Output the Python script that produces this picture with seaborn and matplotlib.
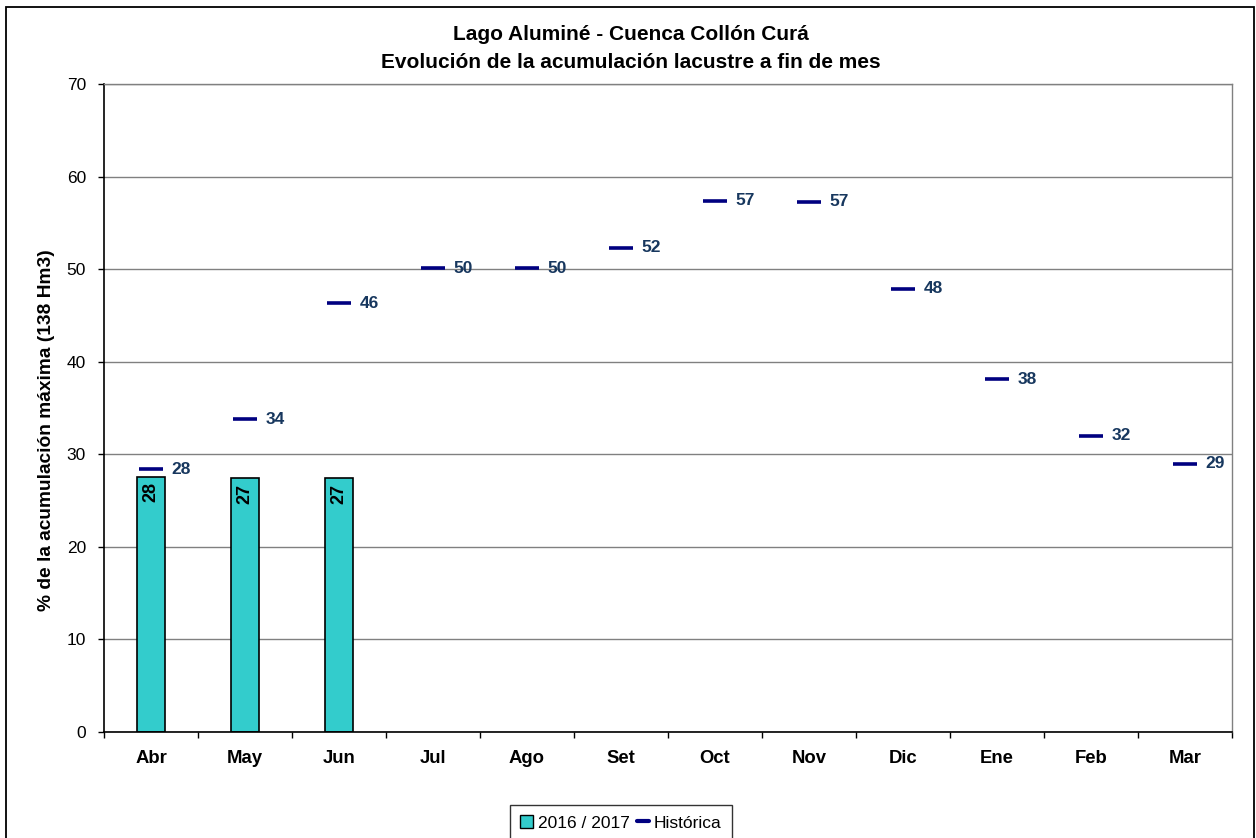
import matplotlib
matplotlib.use("Agg")
import matplotlib.pyplot as plt
import seaborn as sns
import pandas as pd
from matplotlib.patches import Rectangle, Patch
from matplotlib.lines import Line2D
from matplotlib.ticker import FixedLocator

# Months of the hydrological year (April to March)
meses = ["Abr", "May", "Jun", "Jul", "Ago", "Set", "Oct", "Nov", "Dic", "Ene", "Feb", "Mar"]
# 2016 / 2017 season, end-of-month storage (% of maximum)
meses_2016_2017 = ["Abr", "May", "Jun"]
valores_2016_2017 = [27.6, 27.4, 27.4]
# Historical end-of-month storage (% of maximum)
historica = [28.4, 33.8, 46.3, 50.1, 50.1, 52.3, 57.4, 57.3, 47.9, 38.1, 32.0, 29.0]
y_ticks = [0, 10, 20, 30, 40, 50, 60, 70]

titulo_1 = "Lago Aluminé - Cuenca Collón Curá"
titulo_2 = "Evolución de la acumulación lacustre a fin de mes"
etiqueta_y = "% de la acumulación máxima (138 Hm3)"

COLOR_BAR = "#33CCCC"
COLOR_HIST = "#000080"
COLOR_HIST_TXT = "#17375E"

sns.set_style("white")
plt.rcParams["font.family"] = ["Liberation Sans", "DejaVu Sans"]
plt.rcParams.update({"text.color": "black", "axes.labelcolor": "black",
                     "xtick.color": "black", "ytick.color": "black"})

W, H = 1256, 838
fig = plt.figure(figsize=(W / 100, H / 100), dpi=100)
ax = fig.add_axes([104 / W, (H - 732) / H, (1232 - 104) / W, (732 - 84) / H])

df_act = pd.DataFrame({"mes": meses_2016_2017, "valor": valores_2016_2017})
df_hist = pd.DataFrame({"mes": meses, "valor": historica})

sns.barplot(data=df_act, x="mes", y="valor", order=meses, color=COLOR_BAR,
            saturation=1, edgecolor="black", linewidth=1.2, width=0.3,
            ax=ax, zorder=2)
sns.pointplot(data=df_hist, x="mes", y="valor", order=meses, color=COLOR_HIST,
              markers="_", linestyles="none", errorbar=None,
              markersize=17, markeredgewidth=2.6, ax=ax, zorder=3)

# Value labels
for i, v in enumerate(historica):
    ax.annotate(f"{v:.0f}", (i, v), xytext=(15, 0), textcoords="offset points",
                ha="left", va="center", color=COLOR_HIST_TXT,
                fontweight="bold", fontsize=12.5, zorder=4)
for m, v in zip(meses_2016_2017, valores_2016_2017):
    i = meses.index(m)
    ax.annotate(f"{v:.0f}", (i, v), xytext=(0, -4), textcoords="offset points",
                rotation=90, ha="center", va="top", color="black",
                fontweight="bold", fontsize=13, zorder=4)

ax.set_xlim(-0.5, len(meses) - 0.5)
ax.set_ylim(0, 70)
ax.set_yticks(y_ticks)
ax.set_xlabel("")
ax.set_ylabel("")

ax.yaxis.grid(True, color="#808080", linewidth=1)
ax.xaxis.grid(False)
ax.set_axisbelow(True)

for s in ("top", "right"):
    ax.spines[s].set_color("#808080")
    ax.spines[s].set_linewidth(1)
for s in ("left", "bottom"):
    ax.spines[s].set_color("black")
    ax.spines[s].set_linewidth(1.2)

ax.tick_params(axis="y", which="major", direction="out", length=4, width=1,
               color="black", pad=9, labelsize=12.5, left=True)
ax.tick_params(axis="x", which="major", length=0, pad=13, labelsize=13.3)
ax.xaxis.set_minor_locator(FixedLocator([i - 0.5 for i in range(len(meses) + 1)]))
ax.tick_params(axis="x", which="minor", direction="out", length=4, width=1,
               color="black", bottom=True)
for lab in ax.get_xticklabels():
    lab.set_fontweight("bold")

fig.text(631 / W, 1 - 35 / H, titulo_1, ha="center", va="center",
         fontsize=15, fontweight="bold")
fig.text(631 / W, 1 - 62 / H, titulo_2, ha="center", va="center",
         fontsize=15, fontweight="bold")
fig.text(47 / W, 1 - 430 / H, etiqueta_y, rotation=90, ha="center",
         va="center", fontsize=13.8, fontweight="bold")

handles = [
    Patch(facecolor=COLOR_BAR, edgecolor="black", linewidth=1, label="2016 / 2017"),
    Line2D([], [], color=COLOR_HIST, linewidth=3, label="Histórica"),
]
leg = fig.legend(handles=handles, loc="upper center",
                 bbox_to_anchor=(621 / W, 1 - 805 / H), ncol=2, frameon=True,
                 fancybox=False, fontsize=12.5, handlelength=0.7,
                 handleheight=0.7, handletextpad=0.3, columnspacing=0.4,
                 borderpad=0.6, borderaxespad=0)
leg.get_frame().set_edgecolor("black")
leg.get_frame().set_linewidth(1)

# Chart outer border
fig.add_artist(Rectangle((6 / W, -0.05), (1254 - 6) / W, 1 - 7 / H + 0.05,
                         transform=fig.transFigure, fill=False,
                         edgecolor="black", linewidth=1.3, clip_on=False))

fig.savefig("out.png", dpi=100)
